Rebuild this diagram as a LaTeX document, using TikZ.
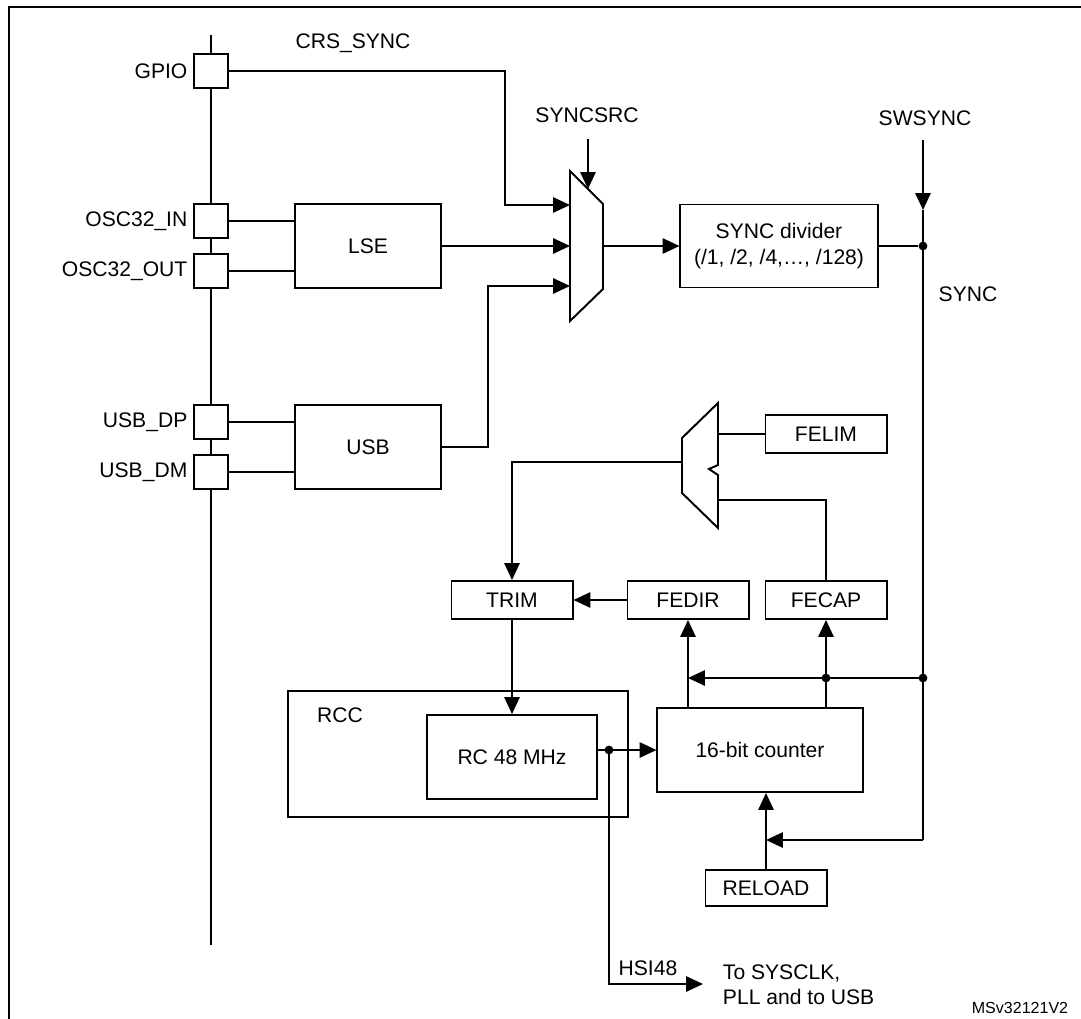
\documentclass[tikz,border=0pt]{standalone}
\usepackage{fontspec}
\setmainfont{Liberation Sans}
\usetikzlibrary{arrows.meta,positioning}
\begin{document}
\begin{tikzpicture}[line cap=butt,line join=miter,>={Triangle[length=4.2mm,width=3.8mm]},
	x=0.025cm,y=-0.025cm,line width=1.4pt,font=\fontsize{15}{18}\selectfont]
	\tikzset{blk/.style={draw,fill=white,inner sep=0pt,minimum width=3.025cm,minimum height=0.95cm},
		pad/.style={draw,fill=white,inner sep=0pt,minimum size=0.85cm},
		lbl/.style={inner sep=0pt},
		dot/.style={circle,fill,inner sep=0pt,minimum size=2.2mm}}
	\useasboundingbox (0,0) rectangle (1081,1019);
	\draw[line width=2pt] (9,1019) |- (1081,7);
	%--------- Chân vào
	\coordinate (bustop) at (211,35);
	\coordinate (busbot) at (211,945);
	\draw (bustop) -- (busbot);
	\node[pad] (gpio) at (211,71) {};
	\node[pad] (osci) at (211,221) {};
	\node[pad] (osco) at (211,271) {};
	\node[pad] (usbdp) at (211,422) {};
	\node[pad] (usbdm) at (211,472) {};
	\node[left=0pt of gpio] {GPIO};
	\node[left=0pt of osci] {OSC32\_IN};
	\node[left=0pt of osco] {OSC32\_OUT};
	\node[left=0pt of usbdp] {USB\_DP};
	\node[left=0pt of usbdm] {USB\_DM};
	\node[lbl] (crs) at (353,43) {CRS\_SYNC};
	%--------- Khối
	\node[blk,minimum width=3.65cm,minimum height=2.1cm] (lse) at (368,246) {LSE};
	\node[blk,minimum width=3.65cm,minimum height=2.1cm] (usb) at (368,447) {USB};
	\node[blk,minimum width=4.925cm,minimum height=2.075cm,align=center] (div) at (779,246)
		{SYNC divider\\(/1, /2, /4,…, /128)};
	\node[blk] (felim) at (826,434) {FELIM};
	\node[blk] (trim) at (512,600) {TRIM};
	\node[blk] (fedir) at (688,600) {FEDIR};
	\node[blk] (fecap) at (826,600) {FECAP};
	\node[draw,inner sep=0pt,minimum width=8.475cm,minimum height=3.15cm] (rcc) at (458,754) {};
	\node[lbl] (rcclbl) at (340,715) {RCC};
	\node[blk,minimum width=4.225cm,minimum height=2.1cm] (rc) at (512,757) {RC 48 MHz};
	\node[blk,minimum width=5.125cm,minimum height=2.1cm] (cnt) at (760,750) {16-bit counter};
	\node[blk,minimum height=0.9cm] (reload) at (766,888) {RELOAD};
	%--------- Bộ chọn
	\draw (570,171) -- (603,204) -- (603,289) -- (570,321) -- cycle;
	\coordinate (m1a) at (570,205);
	\coordinate (m1b) at (570,246);
	\coordinate (m1c) at (570,286);
	\coordinate (m1out) at (603,246);
	\coordinate (m1sel) at (588,189);
	\coordinate (selsrc) at (588,139);
	\node[lbl] (syncsrc) at (587,115) {SYNCSRC};
	\draw (682,438) -- (718,403) -- (718,465) -- (709,469) -- (718,475) -- (718,528) -- (682,493) -- cycle;
	\coordinate (m2a) at (718,434);
	\coordinate (m2b) at (718,500);
	\coordinate (m2out) at (682,462);
	%--------- Đường nối
	\draw[->] (gpio.east) -- ++(276,0) |- (m1a);
	\draw (osci.east) -- (osci.east -| lse.west);
	\draw (osco.east) -- (osco.east -| lse.west);
	\draw (usbdp.east) -- (usbdp.east -| usb.west);
	\draw (usbdm.east) -- (usbdm.east -| usb.west);
	\draw[->] (lse.east) -- (m1b);
	\draw[->] (usb.east) -- ++(46,0) |- (m1c);
	\draw[->] (selsrc) -- (m1sel);
	\draw[->] (m1out) -- (div.west);
	%--------- SYNC
	\node[lbl] (swsync) at (925,118) {SWSYNC};
	\node[lbl] (sync) at (968,294) {SYNC};
	\coordinate (swtop) at (923,140);
	\coordinate (swtip) at (923,210);
	\node[dot] (j1) at (923,246) {};
	\node[dot] (j2) at (923,678) {};
	\node[dot] (j4) at (826,678) {};
	\coordinate (j3) at (923,840);
	\draw[->] (swtop) -- (swtip);
	\draw (swtip) -- (j1.center) -- (j2.center) -- (j3);
	\draw (div.east) -- (j1);
	\draw[->] (j2.center) -- (j4.center) -- (j4 -| fedir.south);
	\draw[->] (j3) -- (j3 -| reload.north);
	%--------- Vòng hiệu chỉnh
	\draw[->] (cnt.north -| fedir.south) -- (fedir.south);
	\draw[->] (cnt.north -| fecap.south) -- (fecap.south);
	\draw (fecap.north) |- (m2b);
	\draw (felim.west) -- (m2a);
	\draw[->] (m2out) -| (trim.north);
	\draw[->] (fedir.west) -- (trim.east);
	\draw[->] (trim.south) -- (rc.north);
	\draw[->] (reload.north) -- (reload.north |- cnt.south);
	%--------- Đầu ra HSI48
	\node[dot] (j5) at (609,750) {};
	\coordinate (hsi) at (703,984);
	\draw[->] (cnt.west -| rc.east) -- (cnt.west);
	\draw[->] (j5.center) |- (hsi);
	\node[lbl] (hsilbl) at (648,968) {HSI48};
	\node[lbl,anchor=west,align=left,font=\fontsize{15}{18}\selectfont] (dest) at (722,985)
		{To SYSCLK,\\PLL and to USB};
	\node[lbl,font=\fontsize{11.4}{13}\selectfont] (ref) at (1020,1008) {MSv32121V2};
\end{tikzpicture}
\end{document}
